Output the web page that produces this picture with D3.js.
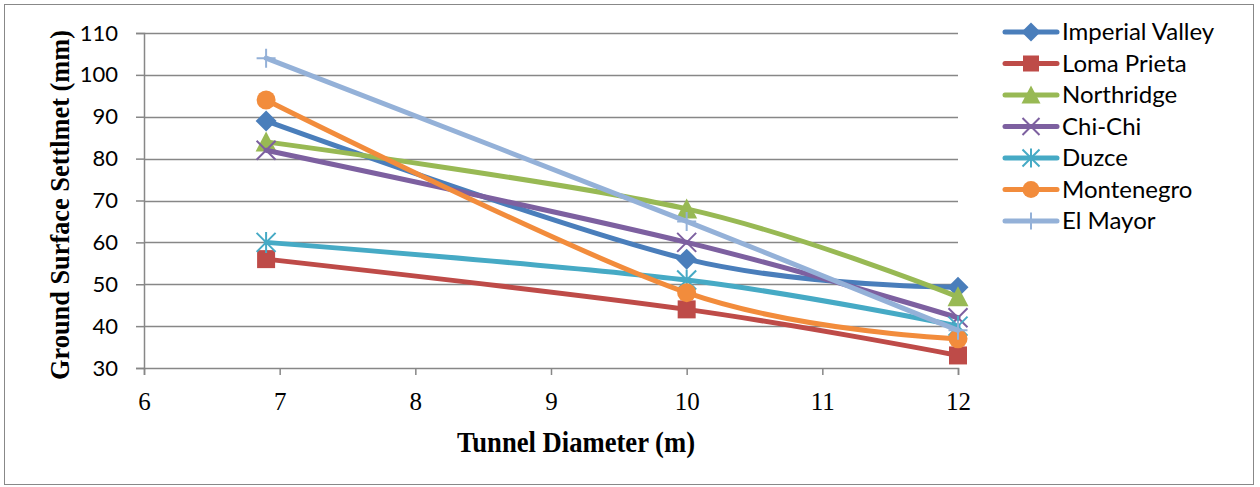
<!DOCTYPE html>
<html><head><meta charset="utf-8">
<script src="https://cdn.jsdelivr.net/npm/d3@7"></script>
<style>body{margin:0;background:#fff}</style>
</head><body>
<script>
const xValues = [6.9, 10, 12];
const seriesNames = ["Imperial Valley","Loma Prieta","Northridge","Chi-Chi","Duzce","Montenegro","El Mayor"];
const imperialValley = [89, 56, 49.3];
const lomaPrieta = [56, 44, 33];
const northridge = [84, 68, 47];
const chiChi = [82, 60, 42];
const duzce = [60, 51, 40];
const montenegro = [94, 48, 37];
const elMayor = [104, 65, 39];
const xTicks = [6,7,8,9,10,11,12];
const yTicks = [30,40,50,60,70,80,90,100,110];
const colors = ["#4A7EBB","#BE4B48","#98B954","#7D60A0","#46AAC5","#F28C3C","#94B1D8"];
const markers = ["diamond","square","triangle","x","star","circle","plus"];
const seriesValues = [imperialValley,lomaPrieta,northridge,chiChi,duzce,montenegro,elMayor];

const W=1260,H=487;
const svg=d3.select("body").append("svg").attr("width",W).attr("height",H);
svg.append("rect").attr("x",4.5).attr("y",4.5).attr("width",1249).attr("height",480).attr("fill","#fff").attr("stroke","#888").attr("stroke-width",1);

const x=d3.scaleLinear().domain([6,12]).range([144,958]);
const y=d3.scaleLinear().domain([30,110]).range([368,33]);

// gridlines
svg.append("g").selectAll("line").data(yTicks.filter(d=>d>30)).join("line")
 .attr("x1",x(6)).attr("x2",x(12)).attr("y1",d=>Math.round(y(d))+0.5).attr("y2",d=>Math.round(y(d))+0.5)
 .attr("stroke","#878787").attr("stroke-width",1.5);

const yAxis=svg.append("g").attr("transform",`translate(${x(6)},0)`)
 .call(d3.axisLeft(y).tickValues(yTicks).tickSize(8).tickPadding(18));
yAxis.select(".domain").attr("stroke","#878787").attr("stroke-width",1.5);
yAxis.selectAll(".tick line").attr("stroke","#878787").attr("stroke-width",1.5);
yAxis.selectAll("text").attr("font-family","Lato, 'Open Sans', sans-serif").attr("font-size",22).attr("fill","#000");

const xAxis=svg.append("g").attr("transform",`translate(0,${y(30)})`)
 .call(d3.axisBottom(x).tickValues(xTicks).tickSize(7).tickPadding(10).tickFormat(d3.format("d")));
xAxis.select(".domain").attr("stroke","#878787").attr("stroke-width",1.5);
xAxis.selectAll(".tick line").attr("stroke","#878787").attr("stroke-width",1.5);
xAxis.selectAll("text").attr("font-family","'Liberation Serif', 'Times New Roman', serif").attr("font-size",25).attr("fill","#000")
 .attr("dy",null).attr("y",42);

svg.append("text").attr("x",576).attr("y",452).attr("text-anchor","middle")
 .attr("font-family","'Liberation Serif', serif").attr("font-weight","bold").attr("font-size",29)
 .attr("textLength",238).attr("lengthAdjust","spacingAndGlyphs")
 .text("Tunnel Diameter (m)");
svg.append("text").attr("transform","translate(69,205) rotate(-90)").attr("text-anchor","middle")
 .attr("font-family","'Liberation Serif', serif").attr("font-weight","bold").attr("font-size",28)
 .attr("textLength",350).attr("lengthAdjust","spacingAndGlyphs")
 .text("Ground Surface Settlmet (mm)");

const line=d3.line().x(d=>x(d[0])).y(d=>y(d[1])).curve(d3.curveCardinal.tension(0));

function drawMarker(g,type,cx,cy,color,s){
  const r=s/2;
  if(type==="diamond") g.append("path").attr("d",`M${cx},${cy-r-1}L${cx+r+1},${cy}L${cx},${cy+r+1}L${cx-r-1},${cy}Z`).attr("fill",color);
  else if(type==="square") g.append("rect").attr("x",cx-r+0.5).attr("y",cy-r+0.5).attr("width",s-1).attr("height",s-1).attr("fill",color);
  else if(type==="triangle") g.append("path").attr("d",`M${cx},${cy-r-1}L${cx+r+1},${cy+r}L${cx-r-1},${cy+r}Z`).attr("fill",color);
  else if(type==="circle") g.append("circle").attr("cx",cx).attr("cy",cy).attr("r",r).attr("fill",color);
  else if(type==="x") g.append("path").attr("d",`M${cx-r},${cy-r}L${cx+r},${cy+r}M${cx+r},${cy-r}L${cx-r},${cy+r}`).attr("stroke",color).attr("stroke-width",2);
  else if(type==="star") g.append("path").attr("d",`M${cx-r},${cy-r}L${cx+r},${cy+r}M${cx+r},${cy-r}L${cx-r},${cy+r}M${cx},${cy-r-1}L${cx},${cy+r+1}`).attr("stroke",color).attr("stroke-width",2);
  else if(type==="plus") g.append("path").attr("d",`M${cx-r},${cy}L${cx+r},${cy}M${cx},${cy-r}L${cx},${cy+r}`).attr("stroke",color).attr("stroke-width",2);
}

seriesValues.forEach((vals,i)=>{
  const g=svg.append("g");
  const pts=xValues.map((xv,j)=>[xv,vals[j]]);
  g.append("path").attr("d",line(pts)).attr("fill","none").attr("stroke",colors[i]).attr("stroke-width",5).attr("stroke-linecap","round");
  pts.forEach(p=>drawMarker(g,markers[i],x(p[0]),y(p[1]),colors[i],19));
});

// legend
const lg=svg.append("g");
seriesNames.forEach((n,i)=>{
  const cy=32+i*31.5;
  lg.append("line").attr("x1",1005).attr("x2",1057).attr("y1",cy).attr("y2",cy).attr("stroke",colors[i]).attr("stroke-width",5).attr("stroke-linecap","round");
  drawMarker(lg,markers[i],1031,cy,colors[i],17);
  lg.append("text").attr("x",1062).attr("y",cy+8).attr("font-family","Lato, 'Open Sans', sans-serif").attr("font-size",24).attr("fill","#000").text(n);
});
</script>
</body></html>
